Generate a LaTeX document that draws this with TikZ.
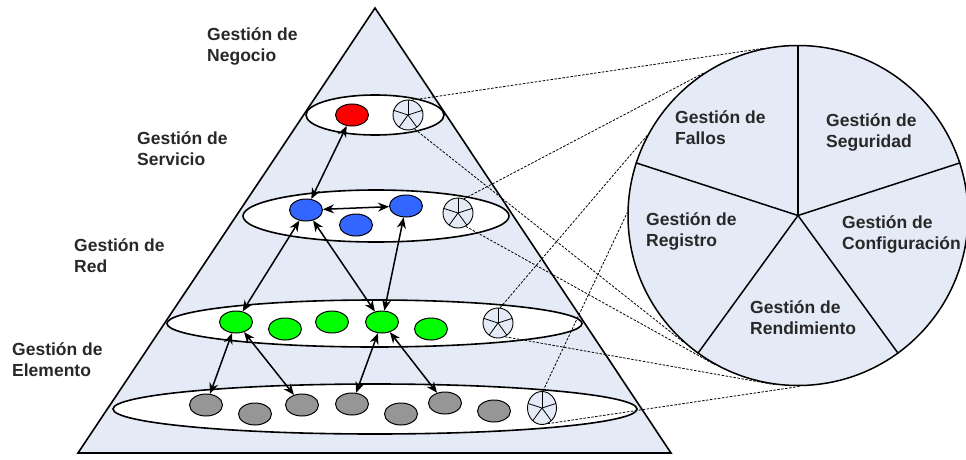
\documentclass[tikz,border=0pt]{standalone}
\usepackage{fontspec}
\setmainfont{Liberation Sans}
\usetikzlibrary{arrows.meta,shapes.geometric}
\definecolor{paleblue}{RGB}{228,234,246}
\definecolor{labelgray}{RGB}{40,40,40}
\definecolor{nodered}{RGB}{255,0,0}
\definecolor{nodeblue}{RGB}{51,102,255}
\definecolor{nodegreen}{RGB}{0,255,0}
\definecolor{nodegray}{RGB}{150,150,150}
\begin{document}
\begin{tikzpicture}[x=1pt,y=-1pt,
  % labels are anchored at the baseline of their last line
  lbl/.style={anchor=base west,inner sep=0pt,align=left,text=labelgray,
    font=\fontsize{17.5}{21}\selectfont\bfseries},
  layer/.style={ellipse,draw,fill=white,line width=1.6pt,inner sep=0pt},
  elem/.style={ellipse,draw,line width=1pt,inner sep=0pt,
    minimum width=33pt,minimum height=22pt},
  link/.style={{Stealth[length=11pt,width=9pt]}-{Stealth[length=11pt,width=9pt]},
    line width=1.5pt},
  icon/.style={ellipse,draw,fill=paleblue,line width=0.9pt,inner sep=0pt,
    minimum width=30pt,minimum height=30pt,
    path picture={\foreach \a in {90,18,-54,-126,162}
      \draw[line width=0.8pt] (path picture bounding box.center) -- ++(\a:20pt);}},
  zoomline/.style={dash pattern=on 2.5pt off 1.5pt,line width=0.8pt,draw=black},
]
\useasboundingbox (0,0) rectangle (966,460);

% pyramid
\coordinate (apex) at (375,8);
\coordinate (baseR) at (671,453);
\coordinate (baseL) at (78,453);
\draw[line width=1.6pt,fill=paleblue,line join=miter] (apex) -- (baseR) -- (baseL) -- cycle;

% management layers
\node[layer,minimum width=138pt,minimum height=40pt] (L1) at (375,115) {};
\node[layer,minimum width=266pt,minimum height=52pt] (L2) at (376,216) {};
\node[layer,minimum width=415pt,minimum height=47pt] (L3) at (374.5,323.5) {};
\node[layer,minimum width=524pt,minimum height=50pt] (L4) at (375,409) {};

% business layer
\node[elem,fill=nodered] (r1) at (352,115) {};
% service layer
\node[elem,fill=nodeblue] (b1) at (306,210) {};
\node[elem,fill=nodeblue] (b2) at (356,225) {};
\node[elem,fill=nodeblue] (b3) at (406,206) {};
% network layer
\node[elem,fill=nodegreen] (g1) at (236,322) {};
\node[elem,fill=nodegreen] (g2) at (285,329) {};
\node[elem,fill=nodegreen] (g3) at (332,322) {};
\node[elem,fill=nodegreen] (g4) at (382,322) {};
\node[elem,fill=nodegreen] (g5) at (431,329) {};
% element layer
\node[elem,fill=nodegray] (e1) at (206,405) {};
\node[elem,fill=nodegray] (e2) at (255,414) {};
\node[elem,fill=nodegray] (e3) at (302,405) {};
\node[elem,fill=nodegray] (e4) at (352,404) {};
\node[elem,fill=nodegray] (e5) at (401,414) {};
\node[elem,fill=nodegray] (e6) at (445,403) {};
\node[elem,fill=nodegray] (e7) at (494,411) {};

% links between layers
\draw[link] (r1) -- (b1);
\draw[link] (b1) -- (b3);
\draw[link] (b1) -- (g1);
\draw[link] (b1) -- (g4);
\draw[link] (b3) -- (g4);
\draw[link] (g1) -- (e1);
\draw[link] (g1) -- (e3);
\draw[link] (g4) -- (e4);
\draw[link] (g4) -- (e6);

% FCAPS icons
\node[icon] (i1) at (408,115) {};
\node[icon] (i2) at (458,213) {};
\node[icon] (i3) at (498,323) {};
\node[icon,minimum width=29pt,minimum height=33pt] (i4) at (542,408) {};

% FCAPS pie
\node[circle,draw,fill=paleblue,line width=1.5pt,inner sep=0pt,minimum size=340pt] (pie) at (798,215.5) {};
\foreach \a in {90,18,-54,-126,162}
  \draw[line width=1.5pt] (pie.center) -- (pie.\a);

% projection lines
\draw[zoomline] (i1.75)  -- (pie.102);
\draw[zoomline] (i1.-65) -- (pie.228);
\draw[zoomline] (i2.67)  -- (pie.123);
\draw[zoomline] (i2.-60) -- (pie.241);
\draw[zoomline] (i3.82)  -- (pie.152);
\draw[zoomline] (i3.-63) -- (pie.262);
\draw[zoomline] (i4.87)  -- (pie.179);
\draw[zoomline] (i4.-70) -- (pie.271);

% layer names
\node[lbl] (tn) at (207,62)  {Gestión de\\Negocio};
\node[lbl] (ts) at (137,165) {Gestión de\\Servicio};
\node[lbl] (tr) at (74,272)  {Gestión de\\Red};
\node[lbl] (te) at (12,376)  {Gestión de\\Elemento};

% pie sector names
\node[lbl] (pf) at (675,144) {Gestión de\\Fallos};
\node[lbl] (ps) at (826,147) {Gestión de\\Seguridad};
\node[lbl] (pr) at (646,246) {Gestión de\\Registro};
\node[lbl] (pc) at (842,249) {Gestión de\\Configuración};
\node[lbl] (pd) at (750,334) {Gestión de\\Rendimiento};
\end{tikzpicture}
\end{document}
